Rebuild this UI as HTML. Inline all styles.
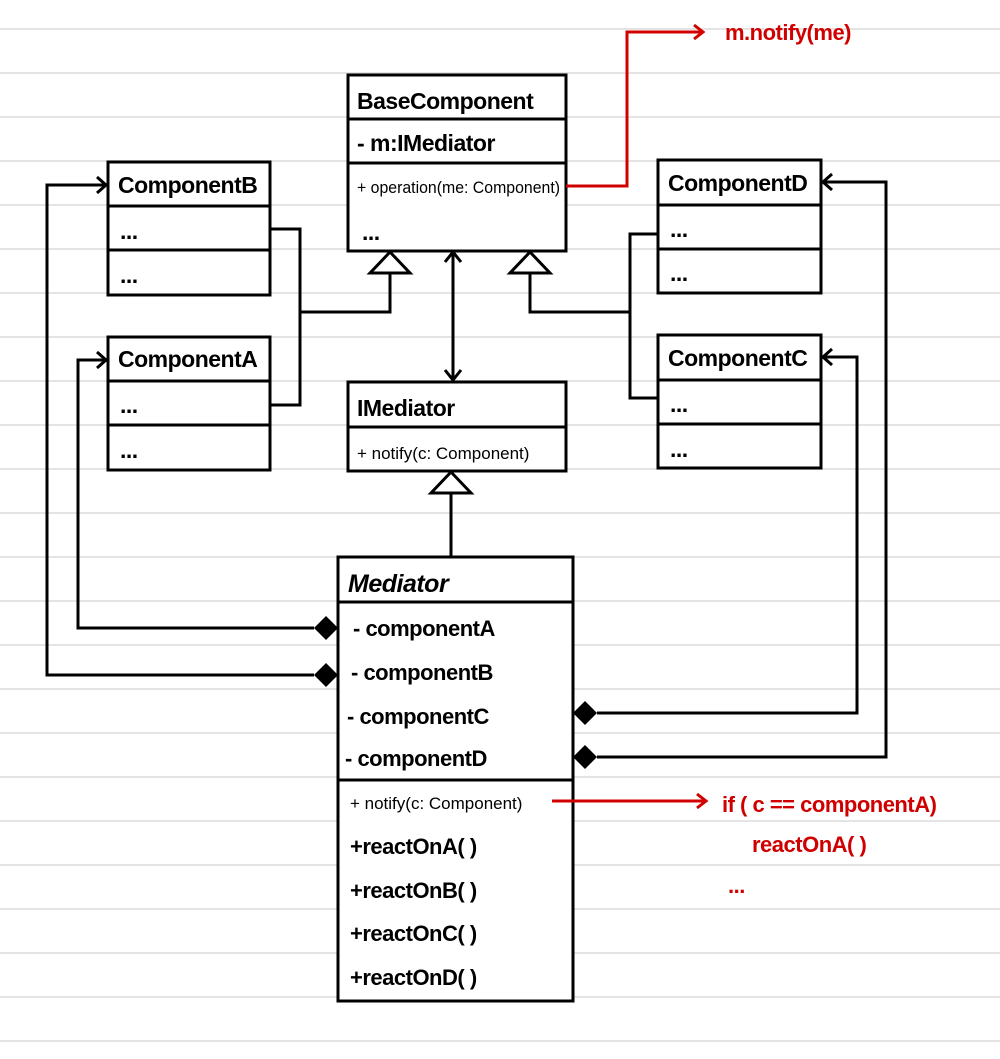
<!DOCTYPE html>
<html><head><meta charset="utf-8"><style>
html,body{margin:0;padding:0;background:#fff;}
svg{display:block;}
text{font-family:"Liberation Sans",sans-serif;fill:#000;}
.t{font-size:23px;font-weight:bold;letter-spacing:-0.5px;}
.m{font-size:22px;font-weight:bold;letter-spacing:-0.5px;}
.s{font-size:17px;}
.r{fill:#d00000;}
</style></head><body>
<svg width="1000" height="1059" viewBox="0 0 1000 1059" xmlns="http://www.w3.org/2000/svg">
<g stroke="#dcdcdc" stroke-width="1.5">
<line x1="0" y1="29" x2="1000" y2="29"/><line x1="0" y1="73" x2="1000" y2="73"/><line x1="0" y1="117" x2="1000" y2="117"/><line x1="0" y1="161" x2="1000" y2="161"/><line x1="0" y1="205" x2="1000" y2="205"/><line x1="0" y1="249" x2="1000" y2="249"/><line x1="0" y1="293" x2="1000" y2="293"/><line x1="0" y1="337" x2="1000" y2="337"/><line x1="0" y1="381" x2="1000" y2="381"/><line x1="0" y1="425" x2="1000" y2="425"/><line x1="0" y1="469" x2="1000" y2="469"/><line x1="0" y1="513" x2="1000" y2="513"/><line x1="0" y1="557" x2="1000" y2="557"/><line x1="0" y1="601" x2="1000" y2="601"/><line x1="0" y1="645" x2="1000" y2="645"/><line x1="0" y1="689" x2="1000" y2="689"/><line x1="0" y1="733" x2="1000" y2="733"/><line x1="0" y1="777" x2="1000" y2="777"/><line x1="0" y1="821" x2="1000" y2="821"/><line x1="0" y1="865" x2="1000" y2="865"/><line x1="0" y1="909" x2="1000" y2="909"/><line x1="0" y1="953" x2="1000" y2="953"/><line x1="0" y1="997" x2="1000" y2="997"/><line x1="0" y1="1041" x2="1000" y2="1041"/>
</g>
<g fill="#fff" stroke="#000" stroke-width="3">
<rect x="348" y="75" width="218" height="176"/><line x1="348" y1="119" x2="566" y2="119"/><line x1="348" y1="163" x2="566" y2="163"/>
<rect x="108" y="162" width="162" height="133"/><line x1="108" y1="206" x2="270" y2="206"/><line x1="108" y1="250" x2="270" y2="250"/>
<rect x="108" y="337" width="162" height="133"/><line x1="108" y1="381" x2="270" y2="381"/><line x1="108" y1="425" x2="270" y2="425"/>
<rect x="658" y="160" width="163" height="133"/><line x1="658" y1="205" x2="821" y2="205"/><line x1="658" y1="249" x2="821" y2="249"/>
<rect x="658" y="335" width="163" height="133"/><line x1="658" y1="380" x2="821" y2="380"/><line x1="658" y1="424" x2="821" y2="424"/>
<rect x="348" y="382" width="218" height="89"/><line x1="348" y1="427" x2="566" y2="427"/>
<rect x="338" y="557" width="235" height="444"/><line x1="338" y1="602" x2="573" y2="602"/><line x1="338" y1="780" x2="573" y2="780"/>
</g>
<g fill="none" stroke="#000" stroke-width="3">
<polyline points="270,229 300,229 300,405 270,405"/>
<polyline points="300,312 390,312 390,273"/>
<polyline points="658,234 630,234 630,398 658,398"/>
<polyline points="630,312 530,312 530,273"/>
<line x1="453" y1="254" x2="453" y2="380"/>
<polyline points="445,262 453,252 461,262"/>
<polyline points="445,370 453,380 461,370"/>
<line x1="451" y1="493" x2="451" y2="557"/>
<polyline points="314,628 78,628 78,360 106,360"/>
<polyline points="97,352 106,360 97,368"/>
<polyline points="314,675 47,675 47,185 106,185"/>
<polyline points="97,177 106,185 97,193"/>
<polyline points="597,713 857,713 857,357 823,357"/>
<polyline points="832,349 823,357 832,365"/>
<polyline points="597,757 886,757 886,182 823,182"/>
<polyline points="832,174 823,182 832,190"/>
<polygon fill="#fff" points="390,252 370,273 410,273"/>
<polygon fill="#fff" points="530,252 510,273 550,273"/>
<polygon fill="#fff" points="451,472 431,493 471,493"/>
</g>
<g fill="#000">
<polygon points="338,628 326,616 314,628 326,640"/>
<polygon points="338,675 326,663 314,675 326,687"/>
<polygon points="573,713 585,701 597,713 585,725"/>
<polygon points="573,757 585,745 597,757 585,769"/>
</g>
<g fill="none" stroke="#d00000" stroke-width="3">
<polyline points="566,186 627,186 627,32 703,32"/>
<polyline points="694,25 703,32 694,39"/>
<line x1="552" y1="801" x2="706" y2="801"/>
<polyline points="697,794 706,801 697,808"/>
</g>
<text class="t" x="357" y="109">BaseComponent</text>
<text class="t" x="357" y="151">- m:IMediator</text>
<text class="s" x="357" y="193" textLength="203" lengthAdjust="spacingAndGlyphs">+ operation(me: Component)</text>
<text class="t" x="362" y="240">...</text>
<text class="t" x="118" y="193">ComponentB</text>
<text class="t" x="120" y="239">...</text>
<text class="t" x="120" y="283">...</text>
<text class="t" x="118" y="367">ComponentA</text>
<text class="t" x="120" y="413">...</text>
<text class="t" x="120" y="458">...</text>
<text class="t" x="668" y="191">ComponentD</text>
<text class="t" x="670" y="237">...</text>
<text class="t" x="670" y="281">...</text>
<text class="t" x="668" y="366">ComponentC</text>
<text class="t" x="670" y="412">...</text>
<text class="t" x="670" y="457">...</text>
<text class="t" x="357" y="416">IMediator</text>
<text class="s" x="357" y="459">+ notify(c: Component)</text>
<text class="t" x="348" y="592" font-style="italic" style="font-size:25px">Mediator</text>
<text class="m" x="353" y="636">- componentA</text>
<text class="m" x="351" y="680">- componentB</text>
<text class="m" x="347" y="724">- componentC</text>
<text class="m" x="345" y="766">- componentD</text>
<text class="s" x="350" y="809">+ notify(c: Component)</text>
<text class="m" x="350" y="854">+reactOnA( )</text>
<text class="m" x="350" y="898">+reactOnB( )</text>
<text class="m" x="350" y="941">+reactOnC( )</text>
<text class="m" x="350" y="985">+reactOnD( )</text>
<text class="m r" x="725" y="40">m.notify(me)</text>
<text class="m r" x="722" y="812">if ( c == componentA)</text>
<text class="m r" x="752" y="852">reactOnA( )</text>
<text class="m r" x="728" y="893">...</text>
</svg>
</body></html>
